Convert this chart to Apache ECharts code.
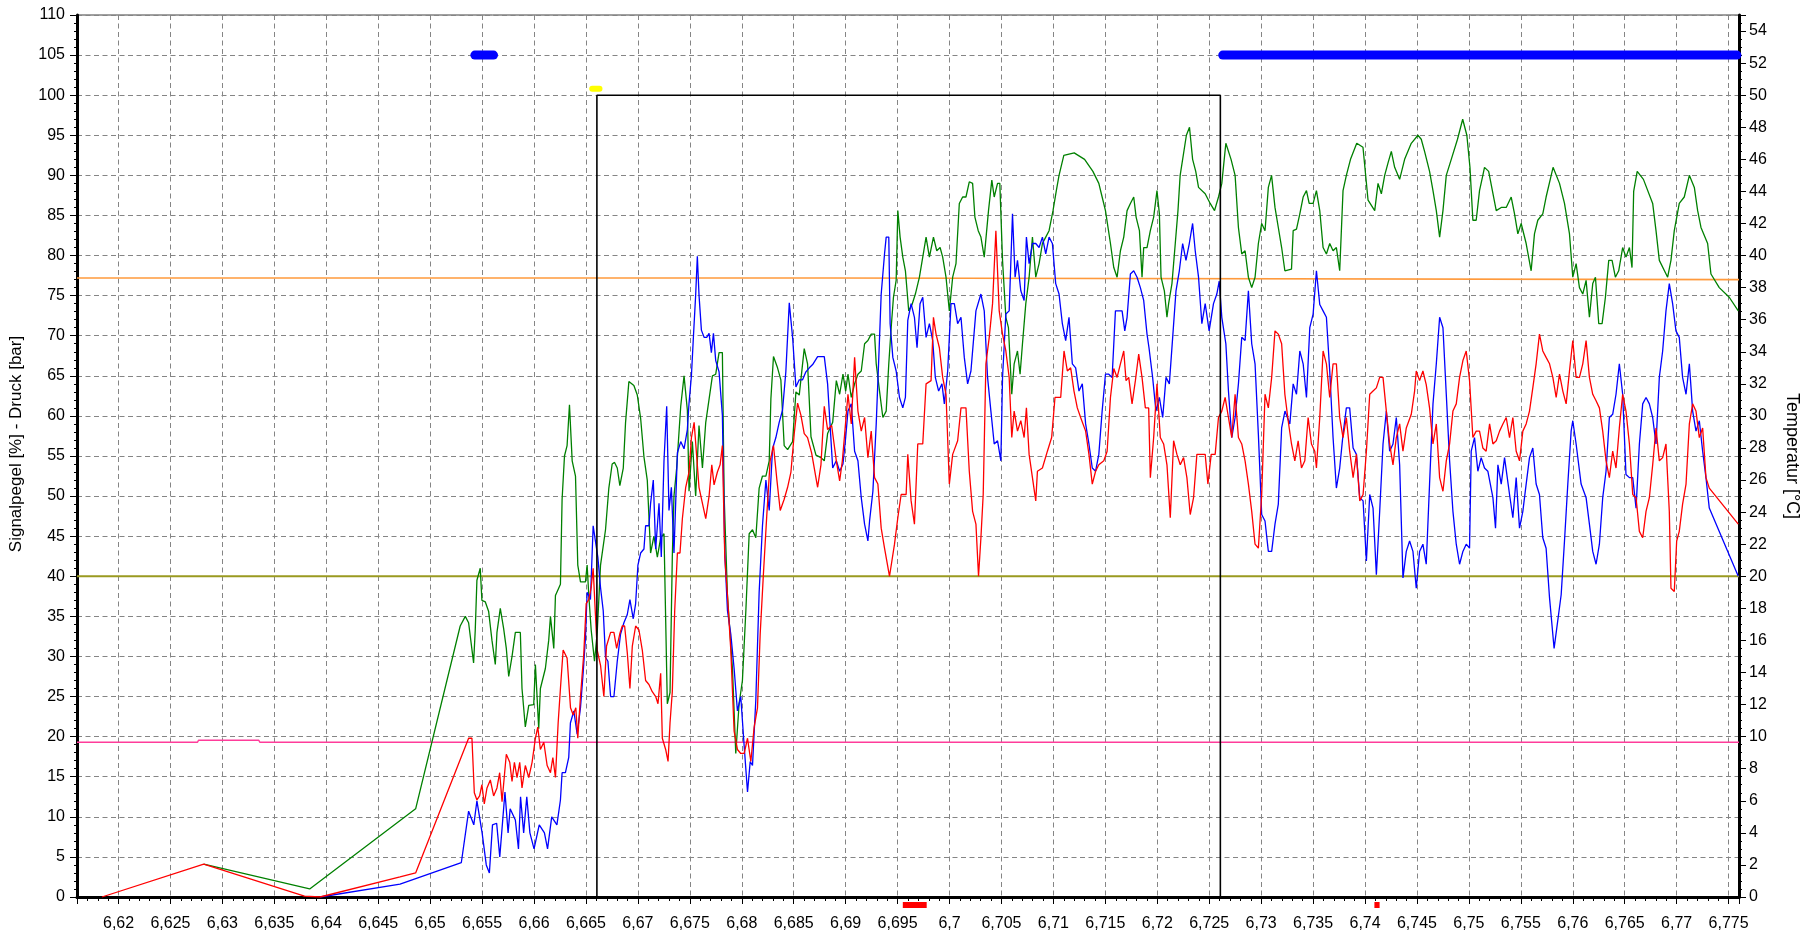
<!DOCTYPE html>
<html><head><meta charset="utf-8">
<script src="https://cdn.jsdelivr.net/npm/echarts@6.0.0/dist/echarts.min.js"></script>
<style>html,body{margin:0;padding:0;background:#fff}#c{width:1809px;height:935px}</style>
</head><body><div id="c"></div>
<script>
// ---- data (x = position, y = Signalpegel/Druck) ----
const greenData = [
[6.6282,4.1],[6.6384,1],[6.6486,11],[6.65289,33.8],[6.65338,35],[6.65370,34.2],[6.65418,29.2],[6.65434,33.3],[6.65450,39.5],[6.65482,41],[6.65498,37],[6.65531,36.8],[6.65563,35.6],[6.65595,32],[6.65627,29],[6.65643,33],[6.65675,36],[6.65707,33.5],[6.65733,31],[6.65756,27.5],[6.65788,30],[6.65820,33],[6.65868,33],[6.65884,26],[6.65916,21.2],[6.65949,23.9],[6.65997,24],[6.66013,29],[6.66045,21],[6.66061,26],[6.66109,28.5],[6.66141,32],[6.66158,35],[6.66190,31],[6.66206,37.6],[6.66254,39],[6.66270,49.6],[6.66293,55],[6.66318,56.3],[6.66341,61.4],[6.66367,54.4],[6.66399,52.5],[6.66421,41.4],[6.66447,39.3],[6.66495,39.3],[6.66511,41.4],[6.66527,37.6],[6.66550,33.3],[6.66582,29.4],[6.66608,33],[6.66640,41.4],[6.66688,45.8],[6.66720,51],[6.66752,54],[6.66775,54.2],[6.66801,53.5],[6.66826,51.3],[6.66859,53.5],[6.66881,59.2],[6.66913,64.3],[6.66961,63.8],[6.66994,62.6],[6.67026,59.7],[6.67058,54.9],[6.67090,52],[6.67122,42.9],[6.67154,45],[6.67187,42.4],[6.67219,44.8],[6.67251,45.3],[6.67283,24.1],[6.67309,25.5],[6.67331,42.4],[6.67347,50],[6.67373,53.5],[6.67412,61.2],[6.67444,65],[6.67460,65.2],[6.67476,60.7],[6.67492,50.6],[6.67524,56.8],[6.67556,50],[6.67588,58.8],[6.67621,53.5],[6.67653,59.2],[6.67685,62.1],[6.67717,65],[6.67749,65.2],[6.67781,67.9],[6.67813,67.9],[6.67830,50],[6.67862,37.6],[6.67910,28.5],[6.67942,17.9],[6.67974,24.1],[6.68006,27],[6.68039,35.7],[6.68071,45.3],[6.68103,45.8],[6.68135,44.8],[6.68167,51],[6.68199,52.5],[6.68232,52.5],[6.68264,54.4],[6.68280,62.1],[6.68305,67.4],[6.68344,66],[6.68376,64.5],[6.68408,56.3],[6.68441,55.8],[6.68489,56.8],[6.68521,63],[6.68553,62.6],[6.68601,68.4],[6.68633,66.5],[6.68666,57.4],[6.68714,55.1],[6.68762,54.8],[6.68794,54.4],[6.68826,57.8],[6.68875,59.2],
[6.68910,64.4],[6.68942,62.7],[6.68974,65.2],[6.69000,63.1],[6.69022,65.2],[6.69054,62.3],[6.69086,64],[6.69118,65.2],[6.69150,65.6],[6.69182,69],[6.69214,69.4],[6.69246,70.2],[6.69278,70.2],[6.69294,66.5],[6.69326,63.1],[6.69358,59.8],[6.69390,60.6],[6.69415,66.5],[6.69438,71],[6.69460,74.8],[6.69486,76.9],[6.69502,85.6],[6.69524,82.3],[6.69550,79.8],[6.69575,78.1],[6.69607,73.1],[6.69639,73.9],[6.69671,75.2],[6.69710,77.3],[6.69742,79.8],[6.69774,82.3],[6.69806,79.8],[6.69845,82.3],[6.69877,80.6],[6.69909,81],[6.69934,79.8],[6.69966,77.3],[6.69998,73.1],[6.70030,77.3],[6.70062,79],[6.70094,86.5],[6.70126,87.3],[6.70158,87.3],[6.70190,89.2],[6.70222,89],[6.70244,84.8],[6.70276,83.1],[6.70302,82.3],[6.70334,79.8],[6.70375,85.6],[6.70407,89.4],[6.70430,87.3],[6.70462,89],[6.70484,89],[6.70510,79.4],[6.70542,72.3],[6.70567,71],[6.70599,62.7],[6.70622,66.5],[6.70654,68.1],[6.70679,65.2],[6.70702,69],[6.70734,74],[6.70766,77.3],[6.70798,82.3],[6.70830,77.3],[6.70862,79],[6.70894,81.5],[6.70926,82.3],[6.70958,83.1],[6.70996,85.6],[6.71028,88.1],[6.71054,90],[6.7110,92.5],[6.7120,92.8],[6.7130,92],[6.7138,90.5],[6.71437,89],[6.71469,87.3],[6.71501,85.6],[6.71549,81.5],[6.71581,78.5],[6.71613,77.3],[6.71645,80.6],[6.71677,82.3],[6.71709,85.6],[6.71741,86.5],[6.71773,87.3],[6.71796,84.8],[6.71828,83.1],[6.71853,77.3],[6.71869,81],[6.71901,81],[6.71933,83.1],[6.71965,84.8],[6.71997,88.1],[6.72020,85.2],[6.72036,77.3],[6.72068,75.6],[6.72093,72.3],[6.72109,74],[6.72141,76.5],[6.72173,81.5],[6.72199,85.6],[6.7222,90],[6.7228,95],[6.7231,96],[6.7234,92],[6.7237,90.5],[6.72397,88.5],[6.72461,87.7],[6.72509,86.5],[6.72551,85.6],[6.72589,87.3],[6.72621,89],[6.7266,94],[6.7271,92],[6.72749,90],[6.72781,83.5],[6.72813,80.2],[6.72845,80.6],[6.72877,77.3],[6.72909,76],[6.72941,77.3],[6.72973,81.5],[6.73005,84],[6.73037,83.1],[6.73069,88.5],[6.7310,90],[6.73133,86],[6.73165,83.5],[6.73197,81],[6.73228,78.1],[6.73292,78.3],[6.73308,83.1],[6.73340,83.3],[6.73372,85.2],[6.73404,87.3],[6.73436,88.1],[6.73462,86.5],[6.73500,86.5],[6.73532,88.1],[6.73564,85.6],[6.73596,81],[6.73628,80.2],[6.73660,81.5],[6.73692,80.6],[6.73724,81],[6.73756,78.1],[6.73788,88.1],[6.73820,90],[6.7386,92],[6.7392,94],[6.7398,93.5],[6.74029,86.9],[6.74093,85.6],[6.74125,89],[6.74157,87.7],[6.74189,90],[6.74220,91.5],[6.74253,93],[6.74285,91],[6.74333,89.5],[6.74381,92],[6.74445,94],[6.74509,95],[6.74541,94.5],[6.74573,93],[6.74621,90.5],[6.74654,88.1],[6.74686,85.6],[6.74718,82.3],[6.74750,85.6],[6.74782,90],[6.7483,92],[6.7489,94.5],[6.7494,97],[6.7498,95],[6.7501,91],[6.75038,84.4],[6.75070,84.4],[6.75102,88.1],[6.75134,90],[6.7515,91],[6.7519,90.5],[6.75263,85.6],[6.75311,86],[6.75359,86],[6.75407,87.3],[6.75439,85.2],[6.75471,82.7],[6.75503,84],[6.75551,81.5],[6.75599,78.1],[6.75631,82.7],[6.75663,84.4],[6.75711,85.2],[6.75743,87.3],[6.75792,90],[6.7581,91],[6.75872,89],[6.75920,86.5],[6.75968,82.7],[6.76000,77.3],[6.76032,79],[6.76064,76],[6.76096,75.2],[6.76128,76.9],[6.76160,72.3],[6.76192,76.5],[6.76218,77.3],[6.76250,71.5],[6.76282,71.5],[6.76314,74.8],[6.76346,79.4],[6.76378,79.4],[6.76410,77.3],[6.76442,78.1],[6.76480,81],[6.76512,79.8],[6.76545,81],[6.76570,78.5],[6.76586,88],[6.7662,90.5],[6.7668,89.5],[6.76769,86.5],[6.76801,83.1],[6.76833,79.4],[6.76913,77.3],[6.76945,79.4],[6.76977,83.1],[6.77025,86.5],[6.77073,87.3],[6.77122,90],[6.77170,88.5],[6.77202,85.6],[6.77234,83.5],[6.77298,81.5],[6.77330,77.7],[6.77410,76],[6.77506,74.8],[6.77593,73.1]
];
const blueData = [
[6.6394,0],[6.6471,1.6],[6.6530,4.3],[6.6537,10.7],[6.6542,9],[6.6545,12],[6.6550,8],[6.6554,4],[6.6557,3],[6.6560,9],[6.6564,9.2],[6.6567,5],[6.6572,13.1],[6.6575,8],[6.6577,11],[6.6582,9.6],[6.6585,6],[6.6587,12.5],[6.6590,8],[6.6593,12.5],[6.6596,8],[6.6600,6],[6.6605,9],[6.6610,8],[6.6613,6],[6.6617,10],[6.6622,9],[6.66254,12.1],[6.66270,15.5],[6.66302,15.5],[6.66334,17.4],[6.66350,21.7],[6.66383,23.2],[6.66415,20.3],[6.66447,23.6],[6.66473,28],[6.66495,32.3],[6.66511,38],[6.66543,37.1],[6.66569,46.3],[6.66592,44.3],[6.66614,42.4],[6.66640,38.6],[6.66666,35.7],[6.66688,29.9],[6.66711,29.4],[6.66737,25],[6.66769,25],[6.66801,29.4],[6.66833,32.8],[6.66865,34.2],[6.66897,35.2],[6.66923,37.1],[6.66955,34.7],[6.66978,36.6],[6.67000,41.4],[6.67026,42.9],[6.67058,43.4],[6.67074,46.3],[6.67106,46.3],[6.67122,49.1],[6.67148,52],[6.67171,43.4],[6.67203,49.1],[6.67225,42.4],[6.67251,54.4],[6.67277,61.2],[6.67299,48.2],[6.67322,51.1],[6.67347,42.9],[6.67380,55.4],[6.67412,56.8],[6.67444,55.9],[6.67476,58.3],[6.67492,61.6],[6.67515,65],[6.67534,69.8],[6.67556,75.1],[6.67572,79.9],[6.67588,75.1],[6.67611,70.7],[6.67637,69.8],[6.67662,69.8],[6.67685,70.3],[6.67707,67.9],[6.67727,70.3],[6.67749,66.9],[6.67781,65.5],[6.67813,60.1],[6.67836,42.9],[6.67862,35.7],[6.67894,32.8],[6.67926,28.5],[6.67958,23.2],[6.67990,25],[6.68023,18.8],[6.68055,13.1],[6.68081,16.9],[6.68103,16.4],[6.68135,24.6],[6.68167,38],[6.68199,46.3],[6.68232,52],[6.68264,48.2],[6.68296,55.9],[6.68328,57.3],[6.68360,59.2],[6.68392,60.7],[6.68424,65.5],[6.68457,74.1],[6.68489,69.8],[6.68521,63.6],[6.68553,64.5],[6.68585,64.5],[6.68617,65.5],[6.68650,66],[6.68682,66.4],[6.68730,67.4],[6.68794,67.4],[6.68826,64],[6.68875,53.5],
[6.68910,54.4],[6.68942,53.1],[6.68974,54],[6.69000,57.3],[6.69022,60.6],[6.69054,61.5],[6.69086,55.6],[6.69118,54.4],[6.69150,49.8],[6.69182,46.5],[6.69214,44.4],[6.69230,46.9],[6.69262,50.6],[6.69294,59],[6.69319,67.3],[6.69342,75.2],[6.69374,80.2],[6.69390,82.3],[6.69415,82.3],[6.69428,71.5],[6.69454,67.3],[6.69486,65.6],[6.69518,62.3],[6.69550,61],[6.69575,62.3],[6.69598,71.9],[6.69630,74],[6.69662,72.3],[6.69687,68.5],[6.69716,74],[6.69742,74.8],[6.69774,69.8],[6.69806,71.5],[6.69838,69.4],[6.69863,64.8],[6.69895,63.1],[6.69927,64],[6.69950,61.5],[6.69982,65.6],[6.70014,74],[6.70046,74],[6.70078,71.5],[6.70110,72.3],[6.70142,67.3],[6.70174,64],[6.70206,65.6],[6.70254,73.1],[6.70302,75.2],[6.70334,73.1],[6.70366,64.8],[6.70398,60.6],[6.70430,56.5],[6.70462,56.9],[6.70494,54.4],[6.70510,64.8],[6.70542,72.7],[6.70574,73.1],[6.70606,85.2],[6.70631,77.3],[6.70654,79.4],[6.70686,75.6],[6.70718,74.4],[6.70740,82.3],[6.70766,79],[6.70798,81.5],[6.70830,81.5],[6.70862,81],[6.70894,82.3],[6.70926,80.2],[6.70958,82.3],[6.70990,81.5],[6.71022,76.5],[6.71054,75.2],[6.71086,71.5],[6.71118,69.4],[6.71150,72.3],[6.71182,66.5],[6.71214,66],[6.71246,63.1],[6.71278,64],[6.71310,59],[6.71342,56.5],[6.71374,53.5],[6.71406,53.1],[6.71437,55.2],[6.71469,60.6],[6.71501,65.2],[6.71533,65.2],[6.71565,64.8],[6.71597,73.1],[6.71629,73.1],[6.71661,73.1],[6.71687,70.6],[6.71709,72.3],[6.71741,77.7],[6.71773,78.1],[6.71805,77.3],[6.71837,76],[6.71869,74.4],[6.71901,70.2],[6.71920,68.5],[6.71955,64.8],[6.71987,60.6],[6.72020,62.3],[6.72052,59.8],[6.72084,64.8],[6.72116,64],[6.72148,69.8],[6.72180,75.6],[6.72212,78.1],[6.72244,81.5],[6.72276,79.4],[6.72308,81.5],[6.72340,84],[6.72365,80.6],[6.72397,77.3],[6.72429,71.5],[6.72461,74],[6.72499,70.6],[6.72541,74],[6.72573,75.2],[6.72596,76.8],[6.72621,72.3],[6.72660,69],[6.72685,63.1],[6.72717,57.3],[6.72749,59.8],[6.72781,64],[6.72813,69.8],[6.72845,69.4],[6.72877,75.6],[6.72909,69],[6.72941,66.5],[6.72973,57.7],[6.73005,47.7],[6.73037,46.9],[6.73069,43.1],[6.73101,43.1],[6.73133,46.5],[6.73165,49],[6.73197,58.5],[6.73229,60.6],
[6.73276,59],[6.73308,64],[6.73340,62.7],[6.73372,68.1],[6.73404,66.5],[6.73436,62.3],[6.73468,71],[6.73500,72.7],[6.73532,78.1],[6.73564,73.9],[6.73596,73.1],[6.73628,72.3],[6.73660,65.6],[6.73692,57.3],[6.73724,51],[6.73756,53.5],[6.73788,57.7],[6.73820,61],[6.73852,61],[6.73885,56],[6.73917,55.2],[6.73949,49.8],[6.73981,49.4],[6.74013,41.9],[6.74045,50.2],[6.74077,48.5],[6.74109,40.2],[6.74141,48.1],[6.74173,56.5],[6.74205,60.6],[6.74237,55.6],[6.74269,56.5],[6.74301,59.8],[6.74333,53.9],[6.74365,39.8],[6.74397,43.1],[6.74429,44.4],[6.74461,43.1],[6.74493,38.5],[6.74525,43.1],[6.74557,44],[6.74589,41.5],[6.74621,51.5],[6.74654,61.5],[6.74686,66.5],[6.74718,72.3],[6.74750,71],[6.74782,62.7],[6.74814,54.4],[6.74846,48.1],[6.74878,44],[6.74910,41.5],[6.74942,43.1],[6.74974,44],[6.75006,43.5],[6.75022,55.6],[6.75054,57.3],[6.75086,53.1],[6.75118,54.8],[6.75150,53.5],[6.75182,53.1],[6.75231,49.8],[6.75256,46],[6.75279,53.9],[6.75311,51.5],[6.75343,54.8],[6.75391,50.2],[6.75423,47.3],[6.75455,52.3],[6.75487,46],[6.75519,48.1],[6.75551,51.5],[6.75583,54.8],[6.75615,56],[6.75647,51.5],[6.75679,50.2],[6.75711,44.8],[6.75743,43.5],[6.75776,37.3],[6.7582,31],[6.75888,37.7],[6.75920,44.4],[6.75952,51.5],[6.75984,58.1],[6.76000,59.4],[6.76032,56.5],[6.76080,51.5],[6.76128,49.8],[6.76160,46.5],[6.76192,43.1],[6.76224,41.5],[6.76256,44],[6.76288,49.8],[6.76320,53.1],[6.76352,59.8],[6.76384,60.2],[6.76416,62.7],[6.76448,66.5],[6.76480,62.7],[6.76512,52.7],[6.76545,52.3],[6.76577,52.3],[6.76609,48.5],[6.76641,56.5],[6.76673,61.5],[6.76705,62.3],[6.76737,61.5],[6.76769,59.8],[6.76801,56.5],[6.76833,64.8],[6.76865,68.1],[6.76897,73.1],[6.76929,76.5],[6.76961,74],[6.76993,70.6],[6.77025,69.8],[6.77057,64.8],[6.77090,62.7],[6.77122,66.5],[6.77154,60.6],[6.77186,58.1],[6.77218,59.4],[6.77250,55.6],[6.77282,52.3],[6.77314,48.5],[6.77593,40]
];
const redData = [
[6.6184,0],[6.6282,4.1],[6.6379,0.1],[6.6394,0],[6.6471,2.5],[6.6486,3],[6.65370,19.8],[6.65402,19.8],[6.65425,13],[6.65450,12.1],[6.65476,12.6],[6.65498,14],[6.65521,11.6],[6.65547,13.6],[6.65579,14.6],[6.65611,12.6],[6.65643,13.6],[6.65669,15.5],[6.65692,11.9],[6.65733,17.8],[6.65766,16.8],[6.65788,14.4],[6.65811,16.8],[6.65836,14.9],[6.65862,16.8],[6.65884,13.6],[6.65916,16.4],[6.65949,14.9],[6.65981,16.8],[6.66013,19.8],[6.66036,21.2],[6.66061,18.4],[6.66094,19.3],[6.66126,16.4],[6.66158,15.5],[6.66181,17.4],[6.66206,14.9],[6.66232,21.7],[6.66254,26],[6.66280,30.8],[6.66318,29.8],[6.66351,23.6],[6.66377,22.7],[6.66402,23.6],[6.66421,19.8],[6.66447,25],[6.66479,30.4],[6.66502,36.6],[6.66527,37.1],[6.66550,38.6],[6.66569,41],[6.66589,35.7],[6.66608,30.8],[6.66640,28.9],[6.66672,25],[6.66698,31.3],[6.66737,33],[6.66769,33],[6.66795,31],[6.66827,32.9],[6.66849,33.8],[6.66872,33.8],[6.66898,30.4],[6.66923,26],[6.66946,31.3],[6.66978,33.8],[6.67010,33.3],[6.67042,30.8],[6.67074,27],[6.67106,26.5],[6.67138,25.6],[6.67171,25],[6.67193,24.1],[6.67219,27.9],[6.67235,19.8],[6.67267,18.4],[6.67290,16.9],[6.67309,21.7],[6.67331,25.6],[6.67354,35.7],[6.67380,42.9],[6.67405,42.9],[6.67428,47.2],[6.67460,51.1],[6.67492,53],[6.67515,57.3],[6.67541,59.2],[6.67566,54.9],[6.67588,51.1],[6.67621,49.1],[6.67653,47.2],[6.67685,50],[6.67711,53.9],[6.67733,51.4],[6.67765,53],[6.67791,53.9],[6.67813,56.3],[6.67836,42.4],[6.67862,37.6],[6.67894,30.8],[6.67926,20.7],[6.67958,18.4],[6.67990,17.9],[6.68023,17.9],[6.68055,19.8],[6.68087,16.9],[6.68119,21.2],[6.68151,23.6],[6.68177,32.8],[6.68209,40.5],[6.68241,47.7],[6.68273,54.4],[6.68305,56.3],[6.68338,52],[6.68370,48.2],[6.68408,49.6],[6.68441,51.1],[6.68473,53],[6.68505,57.8],[6.68537,61.6],[6.68569,60.1],[6.68601,57.8],[6.68633,57.3],[6.68672,55.4],[6.68730,51.1],[6.68762,53.9],[6.68794,61.2],[6.68826,58.3],[6.68865,58.8],
[6.68910,54.4],[6.68942,51.9],[6.68968,54.4],[6.68990,57.7],[6.69022,62.7],[6.69054,59],[6.69086,67.3],[6.69118,60.6],[6.69150,58.1],[6.69182,59.8],[6.69214,54.8],[6.69246,58.1],[6.69278,52.3],[6.69310,51.5],[6.69342,46],[6.69374,43.5],[6.69422,40],[6.69470,44],[6.69502,47.3],[6.69534,50.2],[6.69582,50.2],[6.69598,55.2],[6.69630,49.4],[6.69662,46.5],[6.69694,56.5],[6.69742,56.5],[6.69774,64],[6.69822,64.4],[6.69845,72.3],[6.69870,70.2],[6.69902,68.5],[6.69934,64.8],[6.69966,62.7],[6.69998,51.5],[6.70030,55.2],[6.70078,56.9],[6.70110,61],[6.70158,61],[6.70190,53.1],[6.70222,48.1],[6.70254,46.5],[6.70279,40],[6.70302,44.8],[6.70324,50.2],[6.70350,66.5],[6.70382,69.8],[6.70414,74],[6.70446,83.1],[6.70478,73.1],[6.70510,70.2],[6.70542,68.1],[6.70574,64.8],[6.70599,57.3],[6.70622,60.6],[6.70654,58.1],[6.70686,59.4],[6.70718,57.3],[6.70740,61],[6.70766,55.2],[6.70798,52.3],[6.70830,49.4],[6.70846,53.1],[6.70894,53.5],[6.70942,55.6],[6.70983,57.3],[6.71015,62.3],[6.71070,62.3],[6.71102,68.1],[6.71134,65.6],[6.71166,66],[6.71198,63.1],[6.71230,61],[6.71262,59.8],[6.71310,58.1],[6.71342,55.2],[6.71374,51.5],[6.71406,53.1],[6.71437,53.9],[6.71485,54.4],[6.71517,55.6],[6.71549,62.3],[6.71581,65.9],[6.71613,64.8],[6.71645,66.5],[6.71677,68.1],[6.71699,64.4],[6.71725,64.8],[6.71757,61.5],[6.71789,64.4],[6.71821,67.7],[6.71853,64.8],[6.71885,61],[6.71917,61],[6.71933,52.3],[6.71965,57.3],[6.71997,64],[6.72029,57.3],[6.72061,56.5],[6.72093,53.9],[6.72125,47.3],[6.72157,56.9],[6.72189,55.2],[6.72221,53.9],[6.72253,54.8],[6.72285,52.3],[6.72317,47.7],[6.72349,49.8],[6.72381,55.2],[6.72429,55.2],[6.72461,55.2],[6.72487,51.5],[6.72519,55.2],[6.72557,55.2],[6.72589,59.8],[6.72621,60.6],[6.72653,62.3],[6.72685,59.8],[6.72717,57.3],[6.72749,62.7],[6.72781,57.3],[6.72813,56.5],[6.72845,54.4],[6.72877,51.5],[6.72909,48.1],[6.72941,44],[6.72973,43.5],[6.73005,50.2],[6.73037,62.7],[6.73069,61],[6.73101,64.8],[6.73133,70.6],[6.73165,70.2],[6.73197,69],
[6.73228,62.7],[6.73260,59.4],[6.73292,56.5],[6.73324,54.4],[6.73356,56.9],[6.73388,53.5],[6.73420,54.4],[6.73452,59.8],[6.73484,56.5],[6.73516,55.6],[6.73532,53.5],[6.73564,59.8],[6.73596,68.1],[6.73628,66.5],[6.73660,62.3],[6.73692,66.5],[6.73724,66.5],[6.73756,59.8],[6.73788,57.3],[6.73820,59.8],[6.73852,55.6],[6.73885,52.3],[6.73917,55.2],[6.73949,49.4],[6.73981,50.2],[6.74013,55.6],[6.74045,62.7],[6.74077,63.1],[6.74109,63.5],[6.74141,64.8],[6.74173,64.8],[6.74205,60.6],[6.74237,56.5],[6.74269,53.9],[6.74301,57.3],[6.74333,59],[6.74365,55.6],[6.74397,58.5],[6.74445,60.2],[6.74477,63.1],[6.74493,65.6],[6.74525,64.4],[6.74557,65.6],[6.74589,63.9],[6.74621,61],[6.74654,56.5],[6.74686,59],[6.74718,52.3],[6.74750,50.6],[6.74782,54.4],[6.74814,56.5],[6.74846,60.6],[6.74878,61.5],[6.74910,64.8],[6.74942,66.9],[6.74974,68.1],[6.75006,64.4],[6.75038,57.3],[6.75070,58.1],[6.75102,58.1],[6.75134,56],[6.75166,55.6],[6.75199,59],[6.75231,56.5],[6.75263,56.9],[6.75295,58.1],[6.75327,59],[6.75359,59.8],[6.75391,57.3],[6.75423,59.8],[6.75455,55.6],[6.75487,54.4],[6.75519,58.1],[6.75551,59],[6.75583,60.6],[6.75615,63.5],[6.75647,66.5],[6.75679,70.2],[6.75711,68.1],[6.75743,67.3],[6.75776,66.5],[6.75808,64.8],[6.75840,62.3],[6.75872,65.2],[6.75904,63.1],[6.75936,61.5],[6.75968,65.6],[6.76000,69.4],[6.76032,64.8],[6.76064,64.8],[6.76096,66.5],[6.76128,69.4],[6.76160,64.8],[6.76192,62.7],[6.76224,61.9],[6.76256,61],[6.76288,58.1],[6.76320,54.4],[6.76352,52.3],[6.76384,55.6],[6.76416,53.5],[6.76448,58.5],[6.76480,62.7],[6.76512,60.6],[6.76545,56.5],[6.76577,50.2],[6.76609,49.8],[6.76641,45.6],[6.76673,44.8],[6.76705,48.1],[6.76737,49.8],[6.76769,53.9],[6.76801,58.5],[6.76833,54.4],[6.76865,54.8],[6.76897,56.5],[6.76929,48.1],[6.76945,38.5],[6.76977,38.1],[6.77000,44.4],[6.77025,45.6],[6.77057,49],[6.77090,51.5],[6.77122,59],[6.77154,61.5],[6.77186,60.6],[6.77218,57.3],[6.77250,58.5],[6.77282,52.3],[6.77314,51],[6.77593,46.5]
];
// reference levels
const orangeLevel = [[6.616,77.2],[6.6885,77.2],[6.6886,77.0],[6.776,77.0]];
const oliveLevel = [[6.616,40],[6.776,40]];
const pinkLevel = [[6.616,19.3],[6.6276,19.3],[6.6277,19.55],[6.6335,19.55],[6.6336,19.3],[6.776,19.3]];
// window box
const windowBox = [[6.66605,0],[6.66605,100],[6.72607,100],[6.72607,0]];
// state marks
const blueBar1 = [[6.6543,105],[6.6561,105]];
const blueBar2 = [[6.7263,105],[6.7758,105]];
const yellowMark = [[6.6656,100.8],[6.6663,100.8]];
const redMark1 = [[6.6955,-1],[6.6978,-1]];
const redMark2 = [[6.7409,-1],[6.7414,-1]];

const FONT = '"Liberation Sans", Arial, sans-serif';
const chart = echarts.init(document.getElementById('c'), null, {renderer: 'canvas'});
const dash = {color: '#858585', type: [5, 3.5], width: 1};
function ln(data, color, width, extra) {
  return Object.assign({type: 'line', data: data, symbol: 'none', showSymbol: false,
    lineStyle: {color: color, width: width}, silent: true, animation: false}, extra || {});
}
chart.setOption({
  animation: false,
  backgroundColor: '#ffffff',
  grid: {left: 77, right: 70, top: 15, bottom: 38, show: true, borderColor: '#404040', borderWidth: 1, backgroundColor: 'transparent'},
  xAxis: {
    type: 'value', min: 6.616, max: 6.776, splitNumber: 32, minInterval: 0.005, maxInterval: 0.005,
    axisLine: {show: true, onZero: false, lineStyle: {color: '#000', width: 3}},
    axisTick: {show: true, length: 7, lineStyle: {color: '#000', width: 1}},
    minorTick: {show: true, splitNumber: 5, length: 4, lineStyle: {color: '#000', width: 1}},
    axisLabel: {show: true, showMinLabel: false, showMaxLabel: false, margin: 19, fontSize: 16, color: '#000', fontFamily: FONT,
      formatter: v => String(+v.toFixed(3)).replace('.', ',')},
    splitLine: {show: true, lineStyle: dash},
    minorSplitLine: {show: false}
  },
  yAxis: [{
    type: 'value', min: 0, max: 110, interval: 5, position: 'left',
    name: 'Signalpegel [%] - Druck [bar]', nameLocation: 'middle', nameGap: 52,
    nameTextStyle: {fontSize: 17, color: '#000', fontFamily: FONT, padding: [0, 0, 0, 24]},
    axisLine: {show: true, onZero: false, lineStyle: {color: '#000', width: 3}},
    axisTick: {show: true, length: 7, lineStyle: {color: '#000'}},
    minorTick: {show: true, splitNumber: 5, length: 3, lineStyle: {color: '#000'}},
    axisLabel: {margin: 12, fontSize: 16, color: '#000', fontFamily: FONT},
    splitLine: {show: true, lineStyle: dash}
  }, {
    type: 'value', min: 0, max: 55, interval: 2, position: 'right',
    name: 'Temperatur [°C]', nameLocation: 'middle', nameRotate: -90, nameGap: 44,
    nameTextStyle: {fontSize: 18, color: '#000', fontFamily: FONT},
    axisLine: {show: true, onZero: false, lineStyle: {color: '#000', width: 3}},
    axisTick: {show: true, length: 7, lineStyle: {color: '#000'}},
    minorTick: {show: true, splitNumber: 4, length: 3, lineStyle: {color: '#000'}},
    axisLabel: {margin: 10, fontSize: 16, color: '#000', fontFamily: FONT, showMaxLabel: false},
    splitLine: {show: false}
  }],
  series: [
    ln(orangeLevel, '#FF9A3C', 1.6, {z: 1}),
    ln(oliveLevel, '#9A9A20', 2, {z: 1}),
    ln(pinkLevel, '#FF3C9A', 1.5, {z: 1}),
    ln(greenData, '#008000', 1.3, {z: 2}),
    ln(blueData, '#0000FF', 1.3, {z: 3}),
    ln(redData, '#FF0000', 1.3, {z: 4}),
    ln(windowBox, '#000000', 1.6, {z: 5}),
    ln(blueBar1, '#0000FF', 9, {z: 6, clip: false, lineStyle: {color: '#0000FF', width: 9, cap: 'round'}}),
    ln(blueBar2, '#0000FF', 9, {z: 6, clip: false, lineStyle: {color: '#0000FF', width: 9, cap: 'round'}}),
    ln(yellowMark, '#FFFF00', 6, {z: 6, clip: false, lineStyle: {color: '#FFFF00', width: 6, cap: 'round'}}),
    ln(redMark1, '#FF0000', 6, {z: 6, clip: false}),
    ln(redMark2, '#FF0000', 6, {z: 6, clip: false})
  ]
});
</script></body></html>
